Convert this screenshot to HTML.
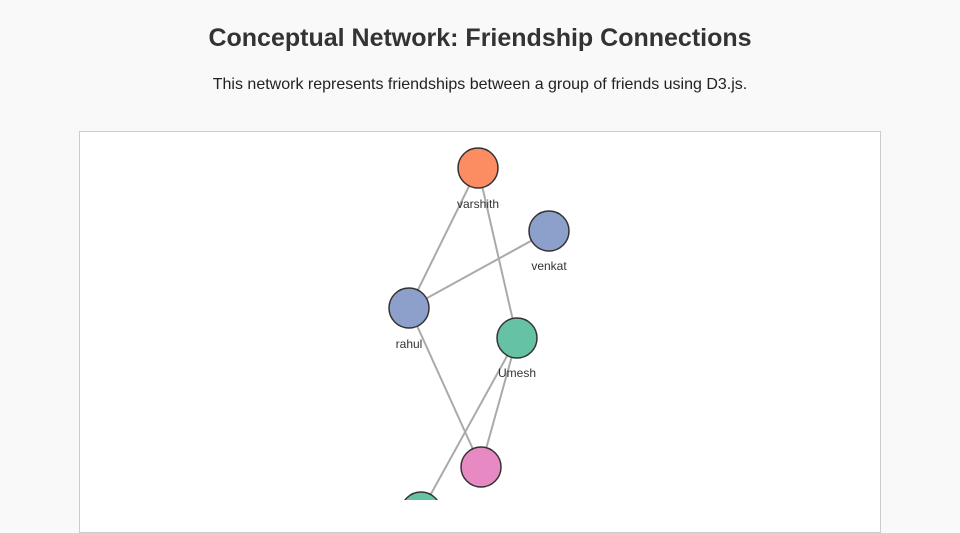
<!DOCTYPE html>
<html><head><meta charset="utf-8"><style>
body{margin:0;background:#f9f9f9;font-family:"Liberation Sans",sans-serif;color:#333;width:960px;height:500px;overflow:hidden;position:relative}
h1{position:absolute;top:24px;left:0;width:960px;text-align:center;margin:0;font-size:25px;font-weight:bold;color:#333}
p{position:absolute;top:76px;left:0;width:960px;text-align:center;margin:0;font-size:16px;color:#222}
.box{position:absolute;left:79px;top:131px;width:800px;height:400px;background:#fff;border:1px solid #ccc}
svg{position:absolute;left:0;top:0}
</style></head><body>
<h1>Conceptual Network: Friendship Connections</h1>
<p>This network represents friendships between a group of friends using D3.js.</p>
<div class="box"></div>
<svg width="960" height="500">
<g stroke="#aaa" stroke-width="2">
<line x1="478" y1="168" x2="409" y2="308"/>
<line x1="478" y1="168" x2="517" y2="338"/>
<line x1="549" y1="231" x2="409" y2="308"/>
<line x1="409" y1="308" x2="481" y2="467"/>
<line x1="517" y1="338" x2="481" y2="467"/>
<line x1="517" y1="338" x2="421" y2="512"/>
</g>
<g stroke="#333" stroke-width="1.5">
<circle cx="478" cy="168" r="20" fill="#fc8d62"/>
<circle cx="549" cy="231" r="20" fill="#8da0cb"/>
<circle cx="409" cy="308" r="20" fill="#8da0cb"/>
<circle cx="517" cy="338" r="20" fill="#66c2a5"/>
<circle cx="481" cy="467" r="20" fill="#e78ac3"/>
<circle cx="421" cy="512" r="20" fill="#66c2a5"/>
</g>
<g font-size="12" fill="#333" text-anchor="middle" font-family="Liberation Sans,sans-serif">
<text x="478" y="208">varshith</text>
<text x="549" y="270">venkat</text>
<text x="409" y="348">rahul</text>
<text x="517" y="377">Umesh</text>
</g>
</svg>
</body></html>
